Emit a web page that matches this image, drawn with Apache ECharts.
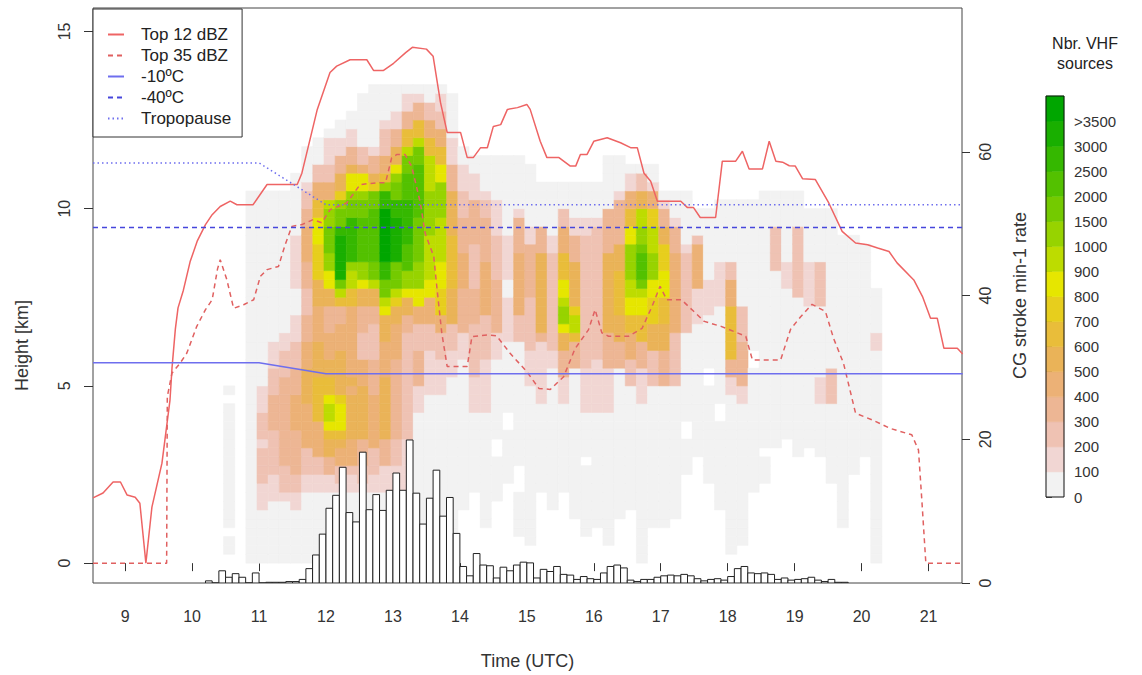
<!DOCTYPE html>
<html>
<head>
<meta charset="utf-8">
<script src="https://cdn.jsdelivr.net/npm/echarts@6/dist/echarts.min.js"></script>
<style>
  html, body { margin: 0; padding: 0; background: #fff; }
  #main { width: 1142px; height: 675px; }
</style>
</head>
<body>
<div id="main"></div>
<script>
// tick labels
var timeTicks = [9, 10, 11, 12, 13, 14, 15, 16, 17, 18, 19, 20, 21];
var heightTicks = [0, 5, 10, 15];
var rateTicks = [0, 20, 40, 60];

// radar echo tops [time UTC, height km]
var top12 = [[8.52,1.84],[8.67,1.98],[8.82,2.29],[8.93,2.29],[9.03,1.92],[9.15,1.86],[9.22,1.69],[9.31,0.0],[9.40,1.58],[9.55,2.82],[9.67,4.6],[9.70,5.5],[9.75,6.6],[9.79,7.2],[9.87,7.7],[9.97,8.5],[10.08,9.1],[10.20,9.55],[10.30,9.83],[10.42,10.06],[10.57,10.21],[10.67,10.11],[10.91,10.11],[11.12,10.68],[11.57,10.68],[11.64,11.0],[11.87,12.8],[12.06,13.84],[12.16,14.02],[12.36,14.2],[12.61,14.2],[12.71,13.9],[12.86,13.9],[13.01,14.1],[13.19,14.4],[13.29,14.55],[13.50,14.5],[13.60,14.3],[13.71,13.0],[13.81,12.15],[14.01,12.15],[14.11,11.44],[14.20,11.44],[14.31,11.72],[14.41,11.72],[14.50,12.32],[14.61,12.37],[14.71,12.8],[14.86,12.85],[15.00,12.94],[15.05,12.8],[15.20,11.9],[15.30,11.44],[15.48,11.44],[15.65,11.2],[15.73,11.2],[15.80,11.53],[15.90,11.53],[16.00,11.9],[16.20,12.0],[16.40,11.86],[16.55,11.72],[16.65,11.72],[16.75,11.0],[16.85,10.77],[16.95,10.21],[17.30,10.21],[17.40,10.03],[17.49,10.03],[17.59,9.75],[17.82,9.75],[17.92,11.34],[18.12,11.34],[18.22,11.62],[18.32,11.12],[18.52,11.12],[18.62,11.9],[18.72,11.34],[18.82,11.31],[18.92,11.21],[19.01,11.2],[19.12,10.84],[19.31,10.82],[19.51,10.16],[19.71,9.36],[19.91,9.03],[20.09,8.98],[20.24,8.89],[20.41,8.79],[20.53,8.47],[20.78,7.99],[20.91,7.52],[21.03,6.91],[21.13,6.91],[21.23,6.06],[21.43,6.06],[21.51,5.9]];
var top35 = [[8.52,0],[9.62,0],[9.63,4.7],[9.70,5.36],[9.82,5.64],[9.92,5.92],[10.07,6.68],[10.20,7.15],[10.30,7.43],[10.38,8.3],[10.42,8.56],[10.52,7.99],[10.62,7.19],[10.77,7.29],[10.92,7.43],[11.02,8.09],[11.12,8.28],[11.29,8.37],[11.39,8.98],[11.49,9.5],[11.64,9.55],[11.81,9.69],[11.94,9.6],[12.06,9.97],[12.31,10.16],[12.51,10.68],[12.76,10.73],[12.89,10.73],[12.98,11.43],[13.06,11.53],[13.18,11.53],[13.28,11.19],[13.41,10.16],[13.48,9.31],[13.61,8.65],[13.66,7.71],[13.73,6.49],[13.81,5.55],[14.11,5.55],[14.18,6.39],[14.41,6.44],[14.55,6.41],[14.75,5.92],[15.00,5.4],[15.18,4.93],[15.35,4.9],[15.55,5.26],[15.72,6.05],[15.92,6.58],[16.02,7.15],[16.12,6.5],[16.22,6.4],[16.52,6.4],[16.72,6.62],[16.87,7.24],[16.99,7.81],[17.09,7.43],[17.31,7.43],[17.65,6.82],[17.90,6.68],[18.10,6.53],[18.27,6.4],[18.37,5.73],[18.79,5.73],[18.94,6.6],[19.09,6.95],[19.26,7.3],[19.46,7.1],[19.58,6.35],[19.73,5.64],[19.91,4.23],[20.16,4.04],[20.43,3.8],[20.75,3.62],[20.85,3.19],[20.90,1.78],[20.96,0],[21.51,0]];
// isotherms and tropopause
var minus10 = [[8.52,5.65],[11.0,5.65],[12.0,5.34],[21.51,5.34]];
var minus40 = [[8.52,9.47],[21.51,9.47]];
var tropopause = [[8.52,11.29],[11.0,11.29],[12.0,10.11],[21.51,10.11]];

// CG stroke rate, 6-min bins starting at cgStart
var cgStart = 10.2;
var cgStep = 0.1;
var cgRate = [0.3,0,1.7,0.8,1.3,0.8,0,1.4,0,0.1,0.1,0.1,0.2,0.2,0.5,2.0,3.9,6.8,10.4,12.2,16.1,9.8,8.5,18.2,10.2,12.3,10.1,12.9,15.3,12.9,19.9,12.5,8.2,11.8,15.7,9.3,11.9,6.9,2.3,1.0,4.1,2.5,2.4,0.7,2.2,1.7,2.5,2.9,2.8,0.7,1.9,1.6,2.3,1.2,1.1,0.5,0.9,0.6,0.5,1.4,2.3,2.5,2.1,0.4,0.2,0.5,0.5,0.8,1.0,1.1,1.0,1.2,1.0,0.6,0.3,0.5,0.6,0.4,0.9,2.0,2.3,1.4,1.3,1.4,1.2,0.5,0.7,0.4,0.5,0.6,0.8,0.4,0.2,0.5,0.1,0.1];

// VHF source density: one string per 10-min column, one char per 0.25 km from the ground up
// '.' none, 0-9 a-f = colour class (0, 100, ... 900, 1000, 1500, ... >3500)
var heatStart = 10.47;
var heatStep = 1 / 6;
var cellHeight = 0.25;
var vhfColumns = [
  ".00.0 00000 00000 000.0 ..... ..... ..... ..... ..... ..... .....",
  "..... ..... ..... ..... ..... ..... ..... ..... ..... ..... .....",
  "00000 00000 00000 00000 00000 00000 00000 00000 00... ..... .....",
  "00000 01112 22212 22111 00000 00000 00000 00000 00... ..... .....",
  "00000 00111 22222 33332 22111 00000 00000 00000 00... ..... .....",
  "00000 00122 23333 33333 32221 10000 00000 00000 00... ..... .....",
  "00000 01122 33333 44443 33222 11100 01111 11000 0000. ..... .....",
  "00000 00011 22244 44455 55444 33322 23334 44433 22100 00... .....",
  "00000 00011 22444 46666 65555 44445 55777 78886 64422 000.. .....",
  "00000 00011 33556 89986 65544 43335 588aa bbbaa 94422 1110. .....",
  "00000 00012 24456 88875 55554 44336 9beee eedbb a7553 31100 .....",
  "00000 00011 24445 55554 54444 44446 699ad ddddb ba885 33110 0....",
  "00000 00012 23335 55555 44422 23335 58aac ccccb ba884 22000 000..",
  "00000 00011 22244 44443 33322 22335 59bbc ccccc bb753 31000 0000.",
  "00000 00011 13335 55555 54444 55589 bbddf fffff dda64 42221 0000.",
  "00000 00011 12223 33333 33344 44557 9bbbe eeeed dbba8 55331 1000.",
  "00000 00011 11112 22222 22222 23355 8aacc cdddd dcccb b9663 3110.",
  "00000 00000 00000 00111 33332 22448 8aaab bbbbc ccccc bb966 3310.",
  "00000 00000 00000 00001 11112 22444 88999 99aaa aa999 96644 2200.",
  "00000 00000 00000 00001 11122 24477 78889 9999a aaa88 66442 2110.",
  "00000 00000 00000 00000 01112 22555 56666 66555 55333 11100 000..",
  "..... .0000 00000 00000 00011 13333 34444 33332 22111 00... .....",
  "..... ...00 00000 00111 12222 22333 32222 23333 31110 0.... .....",
  "....0 00000 00000 00111 11122 22244 44443 33332 21000 0.... .....",
  "..... ..000 00..0 00000 00011 13333 33222 22111 10000 0.... .....",
  "..... ....0 00000 ..000 00000 11111 00111 11000 00000 0.... .....",
  "...00 000.. .0000 00000 00000 22244 44444 33331 00000 0.... .....",
  "..000 00000 00000 00000 11112 22222 33333 31100 00000 ..... .....",
  "..... ...00 00000 00011 11111 35555 55555 33300 000.. ..... .....",
  "..... .0000 00000 00000 00112 22222 22222 11000 000.. ..... .....",
  "..... ...00 00000 00011 13335 58aa9 88666 44422 000.. ..... .....",
  "..... 00000 00000 00000 00333 69975 55553 33110 000.. ..... .....",
  "...00 00000 0.000 00111 11222 22222 22222 22110 000.. ..... .....",
  "....0 00000 00000 00111 11122 22222 22222 22210 000.. ..... .....",
  "..000 00000 00000 00111 11333 35555 55555 33333 00000 0.... .....",
  "..... 00000 00000 00000 00333 55566 66655 53333 31000 0.... .....",
  "..... .0000 00000 00000 22244 46688 99aaa a8866 44110 ..... .....",
  "00000 00000 00000 00011 11333 66688 9bccc baa99 55220 ..... .....",
  "....0 00000 00000 00000 22225 55777 88aaa 99977 44100 ..... .....",
  "....0 00000 00000 00000 33335 55666 88877 75533 10... ..... .....",
  "..... 00000 00000 00000 22222 24444 44444 33310 00... ..... .....",
  "..... ..... 0000. .0000 00000 02222 22222 10000 00... ..... .....",
  "..... ..... ..000 00000 00000 00111 14444 42000 ..... ..... .....",
  "..... ....0 00000 00000 ..000 00011 11000 00000 ..... ..... .....",
  "..... .0000 00000 0..00 00000 00001 11110 00000 0.... ..... .....",
  ".0000 00000 00000 00001 13366 66664 44220 00000 0.... ..... .....",
  "..000 00000 00000 00011 33333 22220 00000 00000 0.... ..... .....",
  "..... ...00 00000 00000 00..0 00000 00000 00000 0.... ..... .....",
  "..... ....0 00.00 00000 00000 00000 00000 00000 00... ..... .....",
  "..... ..... ...00 00000 00000 00000 00022 22200 00... ..... .....",
  "..... ..... ....0 00000 00000 00000 01110 00000 00... ..... .....",
  "..... ..... ..000 00000 00000 00000 22222 22200 00... ..... .....",
  "..... ..... ...00 00000 00000 00001 11110 00000 ..... ..... .....",
  "..... ..... ..000 00011 10000 00002 22220 00000 ..... ..... .....",
  "..... ....0 00000 00022 22000 00000 00000 00000 ..... ..... .....",
  "....0 00000 00000 00000 00000 00000 00000 00... ..... ..... .....",
  "..... ..... 00000 00000 00000 00000 00000 00... ..... ..... .....",
  "..... ..... ..000 00000 00000 00000 00000 0.... ..... ..... .....",
  "00000 00000 00000 00000 00001 10000 0.... ..... ..... ..... ....."
];
var vhfLevelLabels = ['0','100','200','300','400','500','600','700','800','900','1000','1500','2000','2500','3000','>3500'];
var vhfColors = ['#F2F2F2','#F1D6D3','#EFC2B3','#EDB694','#ECB176','#EAB358','#E9BD3A','#E7CE1D','#E6E600','#BDDC00','#97D300','#74CA00','#53C100','#35B800','#19AF00','#00A600'];

var fontFamily = 'Liberation Sans, Arial, sans-serif';

var heatData = [];
vhfColumns.forEach(function (col, c) {
  var s = col.replace(/ /g, '');
  for (var k = 0; k < s.length; k++) {
    if (s[k] === '.') continue;
    heatData.push([heatStart + c * heatStep, k * cellHeight, parseInt(s[k], 16)]);
  }
});
var cgData = cgRate.map(function (v, i) { return [cgStart + i * cgStep, v]; });
var colorbarData = vhfLevelLabels.map(function (l, i) { return [0, i]; });
var colorbarTicks = vhfLevelLabels.map(function (l, i) { return i; });

var chart = echarts.init(document.getElementById('main'), null, { renderer: 'svg' });

var option = {
  animation: false,
  backgroundColor: '#fff',
  textStyle: { fontFamily: fontFamily },
  grid: [
    { left: 93, top: 8, width: 869, height: 575, show: true, borderColor: '#444', borderWidth: 1, backgroundColor: 'transparent' },
    { left: 1046, top: 96, width: 18, height: 401, show: false }
  ],
  legend: {
    left: 93, top: 9, orient: 'vertical',
    padding: [17, 11, 10, 14], itemGap: 4, itemWidth: 16, itemHeight: 14,
    borderColor: '#333', borderWidth: 1, backgroundColor: '#fff',
    itemStyle: { opacity: 0 },
    textStyle: { fontSize: 17, color: '#222', padding: [0, 0, 0, 12] },
    data: ['Top 12 dBZ', 'Top 35 dBZ', '-10ºC', '-40ºC', 'Tropopause']
  },
  graphic: [{
    type: 'text', x: 1085, y: 33,
    style: { text: 'Nbr. VHF\nsources', align: 'center', verticalAlign: 'top', fontSize: 16, lineHeight: 20, fill: '#222', fontFamily: fontFamily }
  }],
  xAxis: [
    {
      type: 'value', gridIndex: 0, min: 8.52, max: 21.5,
      axisLine: { show: false },
      axisTick: { customValues: timeTicks, length: 8, lineStyle: { color: '#333' } },
      axisLabel: { customValues: timeTicks, margin: 25, fontSize: 16, color: '#333' },
      splitLine: { show: false },
      name: 'Time (UTC)', nameLocation: 'middle', nameGap: 69,
      nameTextStyle: { fontSize: 18, color: '#333' }
    },
    { type: 'value', gridIndex: 1, min: 0, max: 1, show: false }
  ],
  yAxis: [
    {
      type: 'value', gridIndex: 0, min: -0.56, max: 15.66, position: 'left',
      axisLine: { show: false },
      axisTick: { customValues: heightTicks, length: 9, lineStyle: { color: '#333' } },
      axisLabel: { customValues: heightTicks, rotate: 90, margin: 21, fontSize: 16, color: '#333' },
      splitLine: { show: false },
      name: 'Height [km]', nameLocation: 'middle', nameGap: 62, nameRotate: 90,
      nameTextStyle: { fontSize: 18, color: '#333', padding: [0, 100, 0, 0] }
    },
    {
      type: 'value', gridIndex: 0, min: 0, max: 80, position: 'right',
      axisLine: { show: false },
      axisTick: { customValues: rateTicks, length: 8, lineStyle: { color: '#333' } },
      axisLabel: { customValues: rateTicks, rotate: 90, margin: 15, fontSize: 16, color: '#333' },
      splitLine: { show: false },
      name: 'CG stroke min-1 rate', nameLocation: 'middle', nameGap: 49, nameRotate: 90,
      nameTextStyle: { fontSize: 18, color: '#333' }
    },
    {
      type: 'value', gridIndex: 1, min: 0, max: 16, position: 'right',
      axisLine: { show: false },
      axisTick: { customValues: colorbarTicks, length: 6, lineStyle: { color: '#333' } },
      axisLabel: {
        customValues: colorbarTicks,
        margin: 10, fontSize: 15, color: '#333',
        formatter: function (v) { return vhfLevelLabels[v]; }
      },
      splitLine: { show: false }
    }
  ],
  series: [
    {
      name: 'VHF sources', type: 'custom', xAxisIndex: 0, yAxisIndex: 0, z: 1, clip: true,
      data: heatData,
      renderItem: function (params, api) {
        var a = api.coord([api.value(0), api.value(1) + cellHeight]);
        var b = api.coord([api.value(0) + heatStep, api.value(1)]);
        var col = vhfColors[api.value(2)];
        return { type: 'rect', shape: { x: a[0], y: a[1], width: b[0] - a[0], height: b[1] - a[1] },
                 style: { fill: col, stroke: col, lineWidth: 0.6 } };
      }
    },
    {
      name: 'CG rate', type: 'custom', xAxisIndex: 0, yAxisIndex: 1, z: 2, clip: true,
      data: cgData,
      renderItem: function (params, api) {
        var a = api.coord([api.value(0), api.value(1)]);
        var b = api.coord([api.value(0) + cgStep, 0]);
        return { type: 'rect', shape: { x: a[0], y: a[1], width: b[0] - a[0], height: b[1] - a[1] },
                 style: { fill: '#fff', stroke: '#222', lineWidth: 1 } };
      }
    },
    { name: 'Top 12 dBZ', type: 'line', data: top12, symbol: 'none', z: 3, lineStyle: { color: '#EE6464', width: 1.5 }, itemStyle: { color: '#EE6464' } },
    { name: 'Top 35 dBZ', type: 'line', data: top35, symbol: 'none', z: 3, lineStyle: { color: '#E06060', width: 1.5, type: [5, 4] }, itemStyle: { color: '#E06060' } },
    { name: '-10ºC', type: 'line', data: minus10, symbol: 'none', z: 3, lineStyle: { color: '#6E6EEE', width: 1.5 }, itemStyle: { color: '#6E6EEE' } },
    { name: '-40ºC', type: 'line', data: minus40, symbol: 'none', z: 3, lineStyle: { color: '#4646DC', width: 1.5, type: [5, 4] }, itemStyle: { color: '#4646DC' } },
    { name: 'Tropopause', type: 'line', data: tropopause, symbol: 'none', z: 3, lineStyle: { color: '#6E6EEE', width: 1.5, type: [1.5, 3] }, itemStyle: { color: '#6E6EEE' } },
    {
      name: 'colorbar', type: 'custom', xAxisIndex: 1, yAxisIndex: 2, z: 1,
      data: colorbarData,
      renderItem: function (params, api) {
        var i = api.value(1);
        var a = api.coord([0, i + 1]);
        var b = api.coord([1, i]);
        return { type: 'rect', shape: { x: a[0], y: a[1], width: b[0] - a[0], height: b[1] - a[1] },
                 style: { fill: vhfColors[i], stroke: vhfColors[i], lineWidth: 0.5 } };
      }
    },
    {
      name: 'colorbar frame', type: 'custom', xAxisIndex: 1, yAxisIndex: 2, z: 4,
      data: [[0, 0]],
      renderItem: function (params, api) {
        var a = api.coord([0, vhfLevelLabels.length]);
        var b = api.coord([1, 0]);
        return { type: 'rect', shape: { x: a[0], y: a[1], width: b[0] - a[0], height: b[1] - a[1] },
                 style: { fill: 'none', stroke: '#111', lineWidth: 1 } };
      }
    }
  ]
};
chart.setOption(option);
</script>
</body>
</html>
